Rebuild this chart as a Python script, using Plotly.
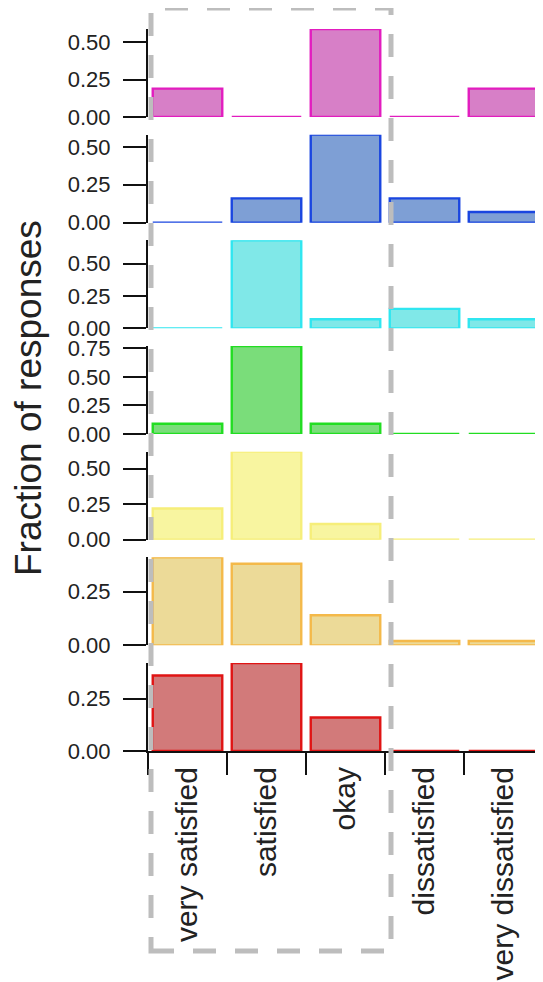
import plotly.graph_objects as go

categories = ["very satisfied", "satisfied", "okay", "dissatisfied", "very dissatisfied"]

magenta_vals = [0.19, 0.0, 0.59, 0.0, 0.19]
blue_vals = [0.0, 0.16, 0.58, 0.16, 0.07]
cyan_vals = [0.0, 0.68, 0.07, 0.15, 0.07]
green_vals = [0.09, 0.77, 0.09, 0.0, 0.0]
yellow_vals = [0.22, 0.62, 0.11, 0.0, 0.0]
orange_vals = [0.41, 0.38, 0.14, 0.02, 0.02]
red_vals = [0.36, 0.42, 0.16, 0.0, 0.0]

series = [magenta_vals, blue_vals, cyan_vals, green_vals, yellow_vals, orange_vals, red_vals]
fills = ["#d77fc7", "#7e9fd5", "#80e8e8", "#7add7a", "#f8f5a0", "#ecda98", "#d27a7a"]
lines = ["#e21dbf", "#1a46e0", "#30e6f0", "#22dd22", "#f6ee7a", "#f4b94a", "#e01414"]

OFF = 8  # default page body margin
W, H = 543 - OFF, 982 - OFF
L, R, T, B = 148 - OFF, 0, 29 - OFF, 231
plot_h = H - T - B
plot_w = W - L - R
panel_h = 88
gap = (plot_h - 7 * panel_h) / 6

fig = go.Figure()
font = "Liberation Sans, Arial, sans-serif"

for i, (vals, fc, lc) in enumerate(zip(series, fills, lines)):
    n = i + 1
    xa = "x" if n == 1 else f"x{n}"
    ya = "y" if n == 1 else f"y{n}"
    fig.add_trace(go.Bar(
        x=categories, y=vals, xaxis=xa, yaxis=ya,
        marker=dict(color=fc, line=dict(color=lc, width=2.4)),
        showlegend=False,
    ))
    top = plot_h - i * (panel_h + gap)
    bot = top - panel_h
    ymax = max(vals)
    ykey = "yaxis" if n == 1 else f"yaxis{n}"
    xkey = "xaxis" if n == 1 else f"xaxis{n}"
    fig.layout[ykey] = dict(
        domain=[bot / plot_h, top / plot_h], anchor=xa, range=[0, ymax],
        tickmode="linear", tick0=0, dtick=0.25, tickformat=".2f",
        ticks="outside", ticklen=23, tickwidth=2, tickcolor="#111",
        showline=True, linewidth=2, linecolor="#111",
        showgrid=False, zeroline=False, ticklabelstandoff=8,
        tickfont=dict(family=font, size=22, color="#222"),
    )
    xdict = dict(
        domain=[0, 1], anchor=ya, range=[-0.5, 4.5], type="category",
        categoryorder="array", categoryarray=categories,
        showgrid=False, zeroline=False,
    )
    if n < 7:
        xdict.update(showticklabels=False, showline=False, ticks="")
    else:
        xdict.update(showline=True, linewidth=2, linecolor="#111",
                     ticks="outside", tickson="boundaries", ticklen=22,
                     tickwidth=2, tickcolor="#111", tickangle=-90,
                     ticklabelstandoff=2,
                     tickfont=dict(family=font, size=30, color="#222"))
    fig.layout[xkey] = xdict

fig.add_annotation(
    text="Fraction of responses", textangle=-90, showarrow=False,
    xref="paper", yref="paper", x=(28 - OFF - L) / plot_w, y=(T + plot_h - (398 - OFF)) / plot_h,
    xanchor="center", yanchor="middle",
    font=dict(family=font, size=37, color="#222"),
)

fig.add_shape(
    type="rect", xref="paper", yref="paper",
    x0=(151 - OFF - L) / plot_w, x1=(391 - OFF - L) / plot_w,
    y0=(T + plot_h - (951 - OFF)) / plot_h, y1=(T + plot_h - (8 - OFF)) / plot_h,
    line=dict(color="#bdbdbd", width=5, dash="23px,19px"),
    layer="above",
)

fig.update_layout(
    width=W, height=H, margin=dict(l=L, r=R, t=T, b=B),
    paper_bgcolor="white", plot_bgcolor="white", bargap=0.12,
)

fig.write_html("out.html")
